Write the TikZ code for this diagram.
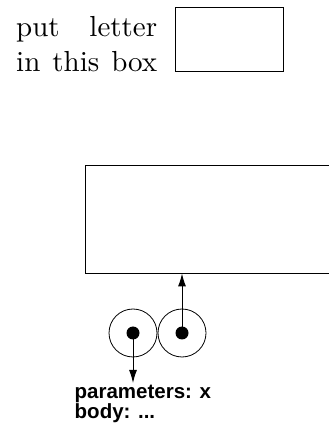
\documentclass[tikz,border=0pt]{standalone}
\usepackage{fontspec}
\newfontfamily\labelfont{Liberation Sans}
\newfontfamily\capfont{lmroman10-regular.otf}
\usetikzlibrary{arrows.meta}
\tikzset{
  boxshape/.style={draw, line width=0.9pt, inner sep=0pt, rectangle},
  ring/.style={draw, circle, line width=0.8pt, minimum size=48pt, inner sep=0pt},
  dot/.style={fill, circle, minimum size=13pt, inner sep=0pt},
  ptr/.style={line width=1pt, -{Latex[length=13pt,width=8pt]}}
}
\begin{document}
\begin{tikzpicture}[x=1pt,y=1pt]
\clip (0,0) rectangle (329,428);
\node[anchor=base west, inner sep=0pt] (caption) at (16,391)
  {\parbox[t]{141pt}{\capfont\fontsize{29}{35}\selectfont\parfillskip=0pt put letter\linebreak in this box}};
\node[boxshape, minimum width=108pt, minimum height=64pt] (letterbox) at (229,389) {};
\node[boxshape, minimum width=255pt, minimum height=108pt] (frame) at (212.5,209) {};
\node[ring] (L) at (133,95) {};
\node[ring] (R) at (182,95) {};
\node[dot] (Ld) at (L.center) {};
\node[dot] (Rd) at (R.center) {};
\coordinate (down) at (133,45);
\draw[ptr] (Rd.center) -- (Rd.center |- frame.south);
\draw[ptr] (Ld.center) -- (down);
\node[anchor=base west, inner sep=0pt, align=left, font=\labelfont\bfseries\fontsize{20.5}{19.5}\selectfont] (info) at (74.5,9.5)
  {parameters: x\\body: ...};
\end{tikzpicture}
\end{document}
